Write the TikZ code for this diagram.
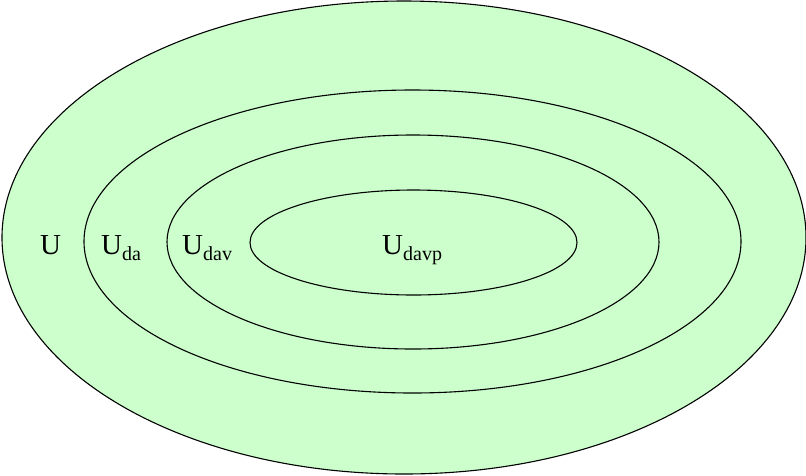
\documentclass[tikz,border=0pt]{standalone}
\usepackage{fontspec}
\setmainfont{Liberation Serif}
\begin{document}
\begin{tikzpicture}[x=1pt,y=-1pt,
  ring/.style={draw=black,line width=1.1pt,fill=setfill},
  lbl/.style={anchor=base west,inner sep=0pt,font=\fontsize{29}{34}\selectfont}]
\definecolor{setfill}{HTML}{CCFFCC}
\useasboundingbox (0,0) rectangle (806,475);
\draw[ring] (404,237.5) ellipse [x radius=402,y radius=236.5];
\draw[ring] (412.5,241.5) ellipse [x radius=328.5,y radius=151.5];
\draw[ring] (413,242) ellipse [x radius=246,y radius=107];
\draw[ring] (413.5,242.5) ellipse [x radius=163.5,y radius=52.5];
\newcommand{\sub}[1]{\raisebox{-0.22em}{\fontsize{20}{20}\selectfont #1}}
\node[lbl] (u) at (40,254) {U};
\node[lbl] (uda) at (101,254) {U\sub{da}};
\node[lbl] (udav) at (182,254) {U\sub{dav}};
\node[lbl] (udavp) at (382,254) {U\sub{davp}};
\end{tikzpicture}
\end{document}
